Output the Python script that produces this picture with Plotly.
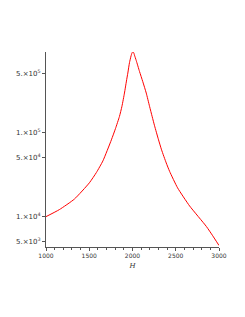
import plotly.graph_objects as go

H = [1000, 1154, 1328, 1502, 1583, 1658, 1756, 1803, 1849, 1878, 1907, 1930,
     1946, 1965, 1983, 1994, 2003, 2014, 2023, 2043, 2081, 2119, 2159, 2197,
     2228, 2255, 2301, 2336, 2390, 2429, 2521, 2660, 2854, 2927, 3000]
vals = [10000, 12110, 16160, 25260, 33500, 46000, 81800, 111200, 155000, 205000,
        294400, 409000, 509000, 676000, 812000, 882000, 906000, 889000, 830000,
        718000, 532000, 402000, 294400, 205000, 153800, 120200, 81800, 62200,
        43500, 34500, 22000, 13400, 7640, 5930, 4540]

ytickvals = [5e5, 1e5, 5e4, 1e4, 5e3]
yticktext = ["5.×10<sup>5</sup>", "1.×10<sup>5</sup>", "5.×10<sup>4</sup>",
             "1.×10<sup>4</sup>", "5.×10<sup>3</sup>"]
xtickvals = [1000, 1500, 2000, 2500, 3000]

fig = go.Figure()
fig.add_trace(go.Scatter(x=H, y=vals, mode="lines",
                         line=dict(color="#ff0000", width=1, shape="spline", smoothing=0.5),
                         hoverinfo="skip"))

font = dict(family="DejaVu Sans", size=6, color="#333333")
yfont = dict(family="DejaVu Sans", size=7, color="#333333")
fig.update_layout(
    width=237, height=309,
    margin=dict(l=38, r=26, t=44, b=70, autoexpand=False),
    paper_bgcolor="white", plot_bgcolor="white",
    showlegend=False,
    font=font,
    xaxis=dict(range=[1000, 3000], tickvals=xtickvals, ticks="outside", ticklen=3,
               tickcolor="#555", showline=True, linecolor="#555", linewidth=1,
               showgrid=False, zeroline=False, tickfont=font,
               minor=dict(dtick=100, tick0=1000, ticks="outside", ticklen=2, tickcolor="#555"),
               title=dict(text="<i>H</i>", font=dict(family="DejaVu Serif", size=7, color="#333"), standoff=4)),
    yaxis=dict(type="log", range=[3.639, 5.957], tickvals=ytickvals, ticktext=yticktext,
               ticks="outside", ticklen=3, tickcolor="#555", showline=True, linecolor="#555",
               linewidth=1, showgrid=False, zeroline=False, tickfont=yfont),
)

fig.write_html("out.html")
